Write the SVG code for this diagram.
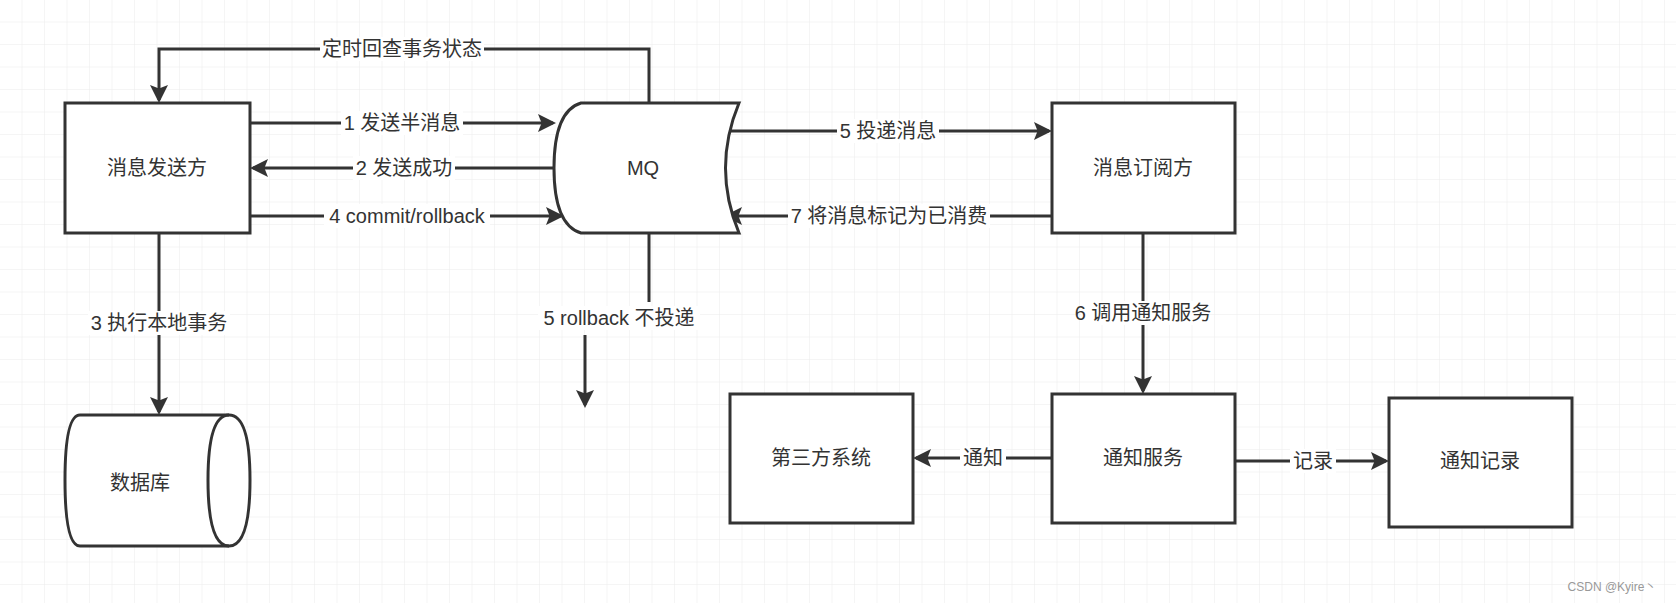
<svg xmlns="http://www.w3.org/2000/svg" width="1676" height="603" viewBox="0 0 1676 603">
<style>
.n{fill:#fff;stroke:#333;stroke-width:3}
.c{fill:none;stroke:#333;stroke-width:3}
text{font-family:"Liberation Sans","Noto Sans CJK SC",sans-serif;font-size:20px;fill:#333;text-anchor:middle;dominant-baseline:central}
.bg{fill:#fff}
</style>
<defs>
<pattern id="g" width="22.5" height="22.5" patternUnits="userSpaceOnUse"><path d="M22.5 0V22.5H0" fill="none" stroke="#ebebeb" stroke-width="1"/></pattern>
<marker id="a" markerWidth="6" markerHeight="6" refX="5" refY="3" orient="auto" markerUnits="strokeWidth"><path d="M0 0L6 3L0 6L1.2 3Z" fill="#333"/></marker>
</defs>
<rect width="1676" height="603" fill="#fff"/>
<rect width="1676" height="603" fill="url(#g)"/>
<g id="connectors">
<path class="c" d="M649 103V49H159V100" marker-end="url(#a)"/>
<path class="c" d="M250 123H553" marker-end="url(#a)"/>
<path class="c" d="M554 168H253" marker-end="url(#a)"/>
<path class="c" d="M250 216H561" marker-end="url(#a)"/>
<path class="c" d="M159 233V412" marker-end="url(#a)"/>
<path class="c" d="M649 233V302"/>
<path class="c" d="M585 335V405" marker-end="url(#a)"/>
<path class="c" d="M726 131H1049" marker-end="url(#a)"/>
<path class="c" d="M1052 216H727" marker-end="url(#a)"/>
<path class="c" d="M1143 233V391" marker-end="url(#a)"/>
<path class="c" d="M1052 458H916" marker-end="url(#a)"/>
<path class="c" d="M1235 461H1386" marker-end="url(#a)"/>
<rect class="bg" x="320" y="37" width="164" height="24"/><text x="402" y="49">定时回查事务状态</text>
<rect class="bg" x="341" y="111" width="122" height="24"/><text x="402" y="123">1 发送半消息</text>
<rect class="bg" x="353" y="156" width="102" height="24"/><text x="404" y="168">2 发送成功</text>
<rect class="bg" x="324" y="204" width="166" height="24"/><text x="407" y="216">4 commit/rollback</text>
<rect class="bg" x="88" y="311" width="142" height="24"/><text x="159" y="323">3 执行本地事务</text>
<rect class="bg" x="538" y="306" width="162" height="24"/><text x="619" y="318">5 rollback 不投递</text>
<rect class="bg" x="837" y="119" width="102" height="24"/><text x="888" y="131">5 投递消息</text>
<rect class="bg" x="788" y="204" width="202" height="24"/><text x="889" y="216">7 将消息标记为已消费</text>
<rect class="bg" x="1081" y="301" width="124" height="24"/><text x="1143" y="313">6 调用通知服务</text>
<rect class="bg" x="960" y="446" width="46" height="24"/><text x="983" y="458">通知</text>
<rect class="bg" x="1290" y="449" width="46" height="24"/><text x="1313" y="461">记录</text>
</g>
<g id="sender"><rect class="n" x="65" y="103" width="185" height="130"/><text x="157" y="168">消息发送方</text></g>
<g id="mq"><path class="n" d="M581 103H739Q712 168 739 233H581Q554 225 554 168Q554 111 581 103Z"/><text x="643" y="168">MQ</text></g>
<g id="db"><path class="n" d="M80 415H229Q250 415 250 480Q250 546 229 546H80Q65 546 65 480Q65 415 80 415Z"/><path class="c" d="M229 415Q208 415 208 480Q208 546 229 546"/><text x="140" y="483">数据库</text></g>
<g id="subscriber"><rect class="n" x="1052" y="103" width="183" height="130"/><text x="1143" y="168">消息订阅方</text></g>
<g id="notify"><rect class="n" x="1052" y="394" width="183" height="129"/><text x="1143" y="458">通知服务</text></g>
<g id="third"><rect class="n" x="730" y="394" width="183" height="129"/><text x="821" y="458">第三方系统</text></g>
<g id="record"><rect class="n" x="1389" y="398" width="183" height="129"/><text x="1480" y="461">通知记录</text></g>
<text x="1612" y="587" style="font-size:12px;fill:#999">CSDN @Kyire丶</text>
</svg>
